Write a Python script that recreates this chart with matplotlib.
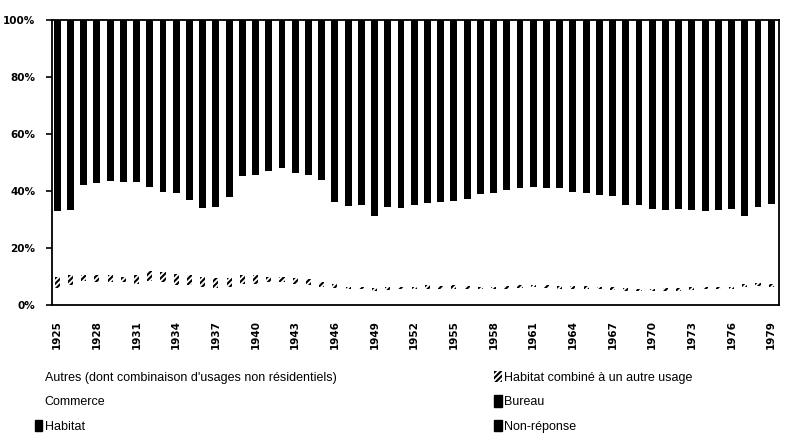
import matplotlib
matplotlib.use("Agg")
import matplotlib.pyplot as plt
from matplotlib.patches import Patch

plt.rcParams['font.family'] = ['Liberation Sans', 'DejaVu Sans']
plt.rcParams['hatch.linewidth'] = 1.5

# Years and shares (%), stacked from the bottom
years = list(range(1925, 1980))

autres = [6.0, 7.0, 8.5, 8.0, 8.0, 8.0, 7.5, 8.5, 8.0, 7.0,
          7.0, 6.5, 6.0, 6.5, 7.5, 7.5, 8.0, 8.0, 7.5, 7.0,
          6.5, 6.0, 5.5, 5.5, 5.0, 5.2, 5.5, 5.5, 5.8, 5.5,
          5.8, 5.8, 5.5, 5.5, 5.8, 6.0, 6.2, 6.0, 5.8, 5.8,
          5.8, 5.5, 5.3, 5.0, 4.8, 4.8, 5.0, 5.0, 5.2, 5.5,
          5.5, 5.5, 6.5, 6.8, 6.3]

habitat_combine = [4.0, 3.5, 2.0, 2.5, 2.5, 2.0, 3.0, 3.5, 3.5, 4.0,
                   3.5, 3.5, 3.5, 3.0, 3.0, 3.0, 2.0, 2.0, 2.0, 2.0,
                   1.5, 1.5, 1.0, 1.0, 1.0, 1.0, 1.0, 1.0, 1.2, 1.3,
                   1.2, 1.0, 1.0, 1.0, 1.0, 1.0, 1.0, 1.0, 1.0, 1.0,
                   1.0, 1.0, 1.0, 1.0, 1.0, 1.0, 1.0, 1.0, 1.0, 1.0,
                   1.0, 1.0, 1.0, 1.0, 1.0]

commerce = [23.0, 23.0, 31.5, 32.3, 33.0, 33.3, 32.5, 29.5, 28.3, 28.4,
            26.3, 24.0, 25.0, 28.5, 34.7, 35.3, 37.2, 38.0, 36.8, 36.7,
            36.0, 28.7, 28.2, 28.5, 25.2, 28.3, 27.7, 28.7, 28.8, 29.4,
            29.6, 30.4, 32.3, 32.9, 33.4, 34.2, 34.3, 34.2, 34.1, 33.0,
            32.6, 32.1, 31.9, 29.1, 29.2, 28.0, 27.2, 27.8, 27.3, 26.4,
            27.0, 27.1, 23.7, 26.7, 28.3]

# Bureau + Habitat + Non-réponse all print solid black in the scan
habitat_bureau_nr = [67.0, 66.5, 58.0, 57.2, 56.5, 56.7, 57.0, 58.5, 60.2, 60.6,
                     63.2, 66.0, 65.5, 62.0, 54.8, 54.2, 52.8, 52.0, 53.7, 54.3,
                     56.0, 63.8, 65.3, 65.0, 68.8, 65.5, 65.8, 64.8, 64.2, 63.8,
                     63.4, 62.8, 61.2, 60.6, 59.8, 58.8, 58.5, 58.8, 59.1, 60.2,
                     60.6, 61.4, 61.8, 64.9, 65.0, 66.2, 66.8, 66.2, 66.5, 67.1,
                     66.5, 66.4, 68.8, 65.5, 64.4]

tick_years = years[::3]
y_ticks = [0, 20, 40, 60, 80, 100]

fig = plt.figure(figsize=(7.87, 4.34), dpi=100)
ax = fig.add_axes([0.066, 0.297, 0.924, 0.657])

w = 0.52
bottom = [0.0] * len(years)
ax.bar(years, autres, width=w, bottom=bottom, color='white', linewidth=0)
bottom = [b + v for b, v in zip(bottom, autres)]
ax.bar(years, habitat_combine, width=w * 0.75, bottom=bottom, color='white',
       edgecolor='black', linewidth=0, hatch='//////')
bottom = [b + v for b, v in zip(bottom, habitat_combine)]
ax.bar(years, commerce, width=w, bottom=bottom, color='white', linewidth=0)
bottom = [b + v for b, v in zip(bottom, commerce)]
ax.bar(years, habitat_bureau_nr, width=w, bottom=bottom, color='black', linewidth=0)

tick_font = dict(family='DejaVu Sans', size=7.5, weight='bold')
ax.set_xlim(1924.6, 1979.6)
ax.set_ylim(0, 100)
ax.set_yticks(y_ticks)
ax.set_yticklabels([f"{v}%" for v in y_ticks], fontdict=tick_font)
ax.set_xticks(tick_years)
ax.set_xticklabels([str(y) for y in tick_years], rotation=90, fontdict=tick_font)
ax.tick_params(axis='x', length=0, pad=11)
ax.tick_params(axis='y', length=4, width=1.2, pad=8)
for s in ax.spines.values():
    s.set_linewidth(1.3)

# Legend in two separate columns, as in the original
h_autres = Patch(facecolor='white', edgecolor='none')
h_commerce = Patch(facecolor='white', edgecolor='none')
h_habitat = Patch(facecolor='black', edgecolor='black')
h_combine = Patch(facecolor='white', edgecolor='black', linewidth=0, hatch='//////')
h_bureau = Patch(facecolor='black', edgecolor='black')
h_nr = Patch(facecolor='black', edgecolor='black')

kw = dict(frameon=False, fontsize=9, handlelength=0.6, handleheight=1.0,
          handletextpad=0.2, labelspacing=0.95, borderpad=0, borderaxespad=0)
fig.legend([h_autres, h_commerce, h_habitat],
           ["Autres (dont combinaison d'usages non résidentiels)", "Commerce", "Habitat"],
           loc='upper left', bbox_to_anchor=(0.044, 0.146), **kw)
fig.legend([h_combine, h_bureau, h_nr],
           ["Habitat combiné à un autre usage", "Bureau", "Non-réponse"],
           loc='upper left', bbox_to_anchor=(0.628, 0.146), **kw)

fig.savefig("out.png", dpi=100)
